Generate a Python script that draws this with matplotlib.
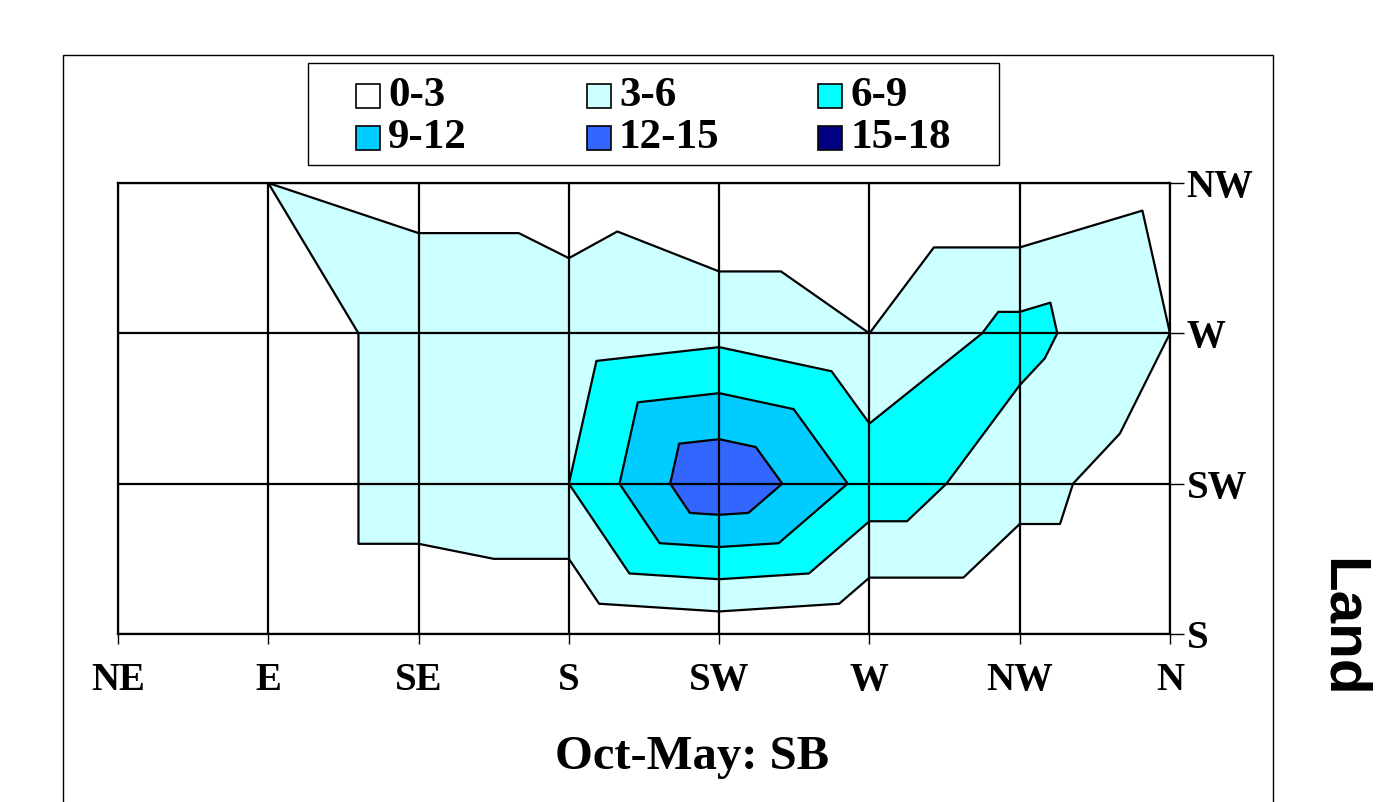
import matplotlib
matplotlib.use("Agg")
import matplotlib.pyplot as plt
import matplotlib.tri as mtri
from matplotlib.patches import Rectangle
import numpy as np

W, H = 1396, 802

x_labels = ["NE", "E", "SE", "S", "SW", "W", "NW", "N"]
y_labels = ["S", "SW", "W", "NW"]

levels = [0, 3, 6, 9, 12, 15, 18]
band_labels = ["0-3", "3-6", "6-9", "9-12", "12-15", "15-18"]
band_colors = ["#FFFFFF", "#CCFFFF", "#00FFFF", "#00CCFF", "#3366FF", "#000080"]

# one row per y category (S at the bottom), one value per x category
row_s = [0, 0, 0, 0, 0.9, 0, 0, 0]
row_sw = [0, 0, 5, 6, 14.9, 8, 4.1, 1.0]
row_w = [0, 0, 5, 4.0, 5.1, 3, 7, 3]
row_nw = [0, 3, 2, 2, 0, 0, 0, 2.1]

title = "Oct-May: SB"
side_label = "Land"

SERIF = "Liberation Serif"
SANS = "Liberation Sans"


def fx(x):
    return x / W


def fy(y):
    return 1 - y / H


def excel_mesh(z):
    # Excel's contour splits every cell in four triangles round its centre;
    # the centre gets the larger of the two diagonal means
    ny, nx = z.shape
    xs, ys, vs = [], [], []
    for j in range(ny):
        for i in range(nx):
            xs.append(i)
            ys.append(j)
            vs.append(z[j, i])
    tris = []
    for j in range(ny - 1):
        for i in range(nx - 1):
            bl, br = j * nx + i, j * nx + i + 1
            tl, tr = (j + 1) * nx + i, (j + 1) * nx + i + 1
            c = len(xs)
            xs.append(i + 0.5)
            ys.append(j + 0.5)
            vs.append(max((z[j + 1, i] + z[j, i + 1]) / 2,
                          (z[j + 1, i + 1] + z[j, i]) / 2))
            tris += [[tl, tr, c], [tr, br, c], [br, bl, c], [bl, tl, c]]
    return mtri.Triangulation(xs, ys, tris), np.array(vs)


z = np.array([row_s, row_sw, row_w, row_nw], dtype=float)
tri, vals = excel_mesh(z)

fig = plt.figure(figsize=(W / 100, H / 100), dpi=100)
fig.patch.set_facecolor("white")

# outer chart border (runs off the bottom of the picture)
fig.add_artist(Rectangle((fx(63), -0.1), fx(1273) - fx(63), fy(55) + 0.1,
                         fill=False, edgecolor="black", linewidth=1.0,
                         transform=fig.transFigure))

ax = fig.add_axes([fx(118), fy(634), fx(1170) - fx(118), fy(183) - fy(634)])
ax.tricontourf(tri, vals, levels=levels, colors=band_colors, zorder=1)
ax.tricontour(tri, vals, levels=levels[1:-1], colors="black",
              linewidths=1.6, zorder=2)

ax.set_xlim(0, len(x_labels) - 1)
ax.set_ylim(0, len(y_labels) - 1)
ax.set_xticks(range(len(x_labels)))
ax.set_xticklabels(x_labels, fontfamily=SERIF, fontweight="bold", fontsize=28)
ax.set_yticks(range(len(y_labels)))
ax.yaxis.tick_right()
ax.set_yticklabels(y_labels, fontfamily=SERIF, fontweight="bold", fontsize=28)
ax.tick_params(axis="x", direction="out", length=7, width=1, pad=13)
ax.tick_params(axis="y", direction="out", length=10, width=1, pad=2)
ax.grid(True, color="black", linewidth=1.6)
ax.set_axisbelow(False)
for sp in ax.spines.values():
    sp.set_linewidth(1.6)

fig.text(fx(692), fy(757), title, ha="center", va="center",
         fontfamily=SERIF, fontweight="bold", fontsize=35)
fig.text(fx(1342), fy(628), side_label, ha="center", va="center",
         rotation=-90, fontfamily=SANS, fontweight="bold", fontsize=42)

# legend box, three columns by two rows
fig.add_artist(Rectangle((fx(308), fy(165)), fx(999) - fx(308), fy(63) - fy(165),
                         fill=False, edgecolor="black", linewidth=1.0,
                         transform=fig.transFigure))
sq = 24
for k, (lab, col) in enumerate(zip(band_labels, band_colors)):
    r, c = divmod(k, 3)
    x0 = 356 + c * 231
    yc = 96 + r * 42
    fig.add_artist(Rectangle((fx(x0), fy(yc + sq / 2)), sq / W, sq / H,
                             facecolor=col, edgecolor="black", linewidth=1.2,
                             transform=fig.transFigure))
    fig.text(fx(x0 + sq + 8), fy(yc), lab, ha="left", va="center",
             fontfamily=SERIF, fontweight="bold", fontsize=31)

fig.savefig("out.png", dpi=100, facecolor="white")
